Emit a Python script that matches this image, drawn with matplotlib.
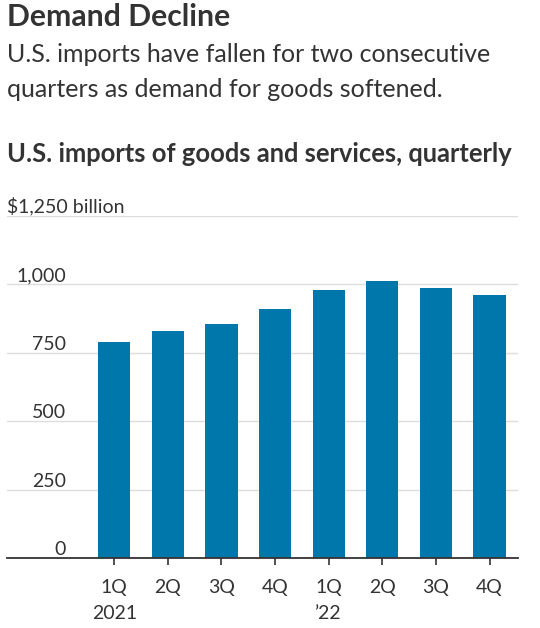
import matplotlib

matplotlib.use("Agg")
import matplotlib.pyplot as plt
import matplotlib.transforms as mtransforms

# quarterly U.S. imports of goods and services, $ billion
quarters = ["1Q\n2021", "2Q", "3Q", "4Q", "1Q\n\u201922", "2Q", "3Q", "4Q"]
imports = [790, 831, 856, 909, 978, 1011, 985, 960]
yticks = [0, 250, 500, 750, 1000, 1250]
ytick_labels = ["0", "250", "500", "750", "1,000", "$1,250 billion"]

BAR_C = "#0077AA"
TEXT_C = "#333333"
GRID_C = "#dddddd"

plt.rcParams["font.family"] = ["Lato", "DejaVu Sans"]

W, H = 540, 628
fig = plt.figure(figsize=(W / 100, H / 100), dpi=100)


def fy(px):
    return 1 - px / H


fig.text(7 / W, fy(26), "Demand Decline", fontsize=21.7, fontweight="bold",
         color=TEXT_C, va="baseline")
fig.text(7 / W, fy(62), "U.S. imports have fallen for two consecutive",
         fontsize=18, color=TEXT_C, va="baseline")
fig.text(7 / W, fy(97), "quarters as demand for goods softened.",
         fontsize=18, color=TEXT_C, va="baseline")
fig.text(7 / W, fy(162), "U.S. imports of goods and services, quarterly",
         fontsize=18.4, fontweight="bold", color=TEXT_C, va="baseline")

left, right, top, bottom = 7, 518, 215.7, 558.3
ax = fig.add_axes([left / W, 1 - bottom / H, (right - left) / W, (bottom - top) / H])

x = list(range(len(imports)))
ax.bar(x, imports, width=0.6, color=BAR_C, zorder=2)
ax.set_xlim(-2.0, 7.53)
ax.set_ylim(0, 1250)

for v in yticks[1:]:
    ax.axhline(v, color=GRID_C, lw=1, zorder=1)

trans = mtransforms.blended_transform_factory(fig.transFigure, ax.transData)
for v, lab in zip(yticks, ytick_labels):
    if v == 1250:
        ax.text(7 / W, v, lab, transform=trans, ha="left", va="bottom",
                fontsize=14, color=TEXT_C)
    else:
        ax.text(66 / W, v, lab, transform=trans, ha="right", va="bottom",
                fontsize=14, color=TEXT_C)

for side in ["left", "right", "top"]:
    ax.spines[side].set_visible(False)
ax.spines["bottom"].set_color(TEXT_C)
ax.spines["bottom"].set_linewidth(1.3)
ax.spines["bottom"].set_zorder(3)

ax.set_yticks([])
ax.set_xticks(x)
ax.set_xticklabels(quarters, fontsize=14, color=TEXT_C, linespacing=1.65)
ax.tick_params(axis="x", length=5, width=1.2, color=TEXT_C, pad=10)

fig.savefig("out.png", dpi=100)
